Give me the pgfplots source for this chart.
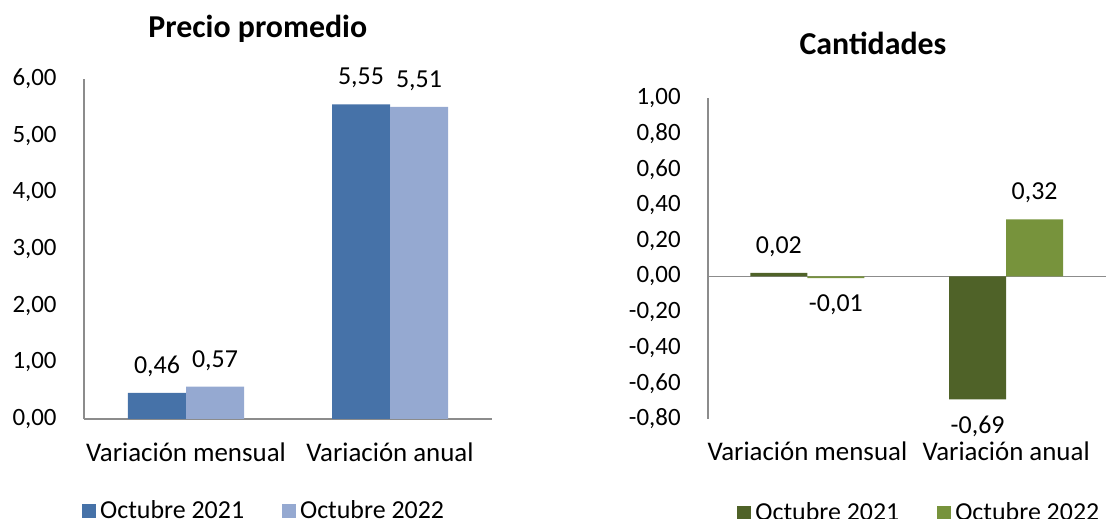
\documentclass[border=0pt]{standalone}
\usepackage{fontspec}
\setmainfont{Carlito}
\usepackage{pgfplots}
\pgfplotsset{compat=1.18}

\definecolor{azulosc}{HTML}{4672A8}
\definecolor{azulcla}{HTML}{95A9D1}
\definecolor{verdeosc}{HTML}{4F6228}
\definecolor{verdecla}{HTML}{77933C}
\definecolor{eje}{HTML}{8C8C8C}

\pgfplotsset{
  panel/.style={
    scale only axis,
    enlargelimits=false,
    xmin=-0.5, xmax=1.5,
    xtick={0,1},
    xticklabels={Variación mensual, Variación anual},
    major tick length=0pt,
    ybar=0pt,
    /pgf/number format/.cd, use comma, fixed, fixed zerofill, precision=2, assume math mode=true,
    /pgfplots/.cd,
    yticklabel style={font=\fontsize{12.5}{14}\selectfont, anchor=east, inner sep=0pt, xshift=-13.5bp},
    xticklabel style={font=\fontsize{13.5}{15}\selectfont, anchor=base, inner sep=0pt, yshift=-21bp},
    axis line style={eje, line width=0.8pt},
    nodes near coords,
    every node near coord/.append style={font=\fontsize{13}{15}\selectfont, inner sep=8pt, text=black},
    every axis title shift=0pt,
    title style={font=\bfseries\fontsize{16}{18}\selectfont, anchor=base},
    legend columns=2,
    legend style={draw=none, fill=none, font=\fontsize{13}{15}\selectfont, anchor=west,
      /tikz/every even column/.append style={column sep=17bp}},
    legend image code/.code={\fill[##1] (0bp,-3.5bp) rectangle (7bp,3.5bp);},
  },
}

\begin{document}
\begin{tikzpicture}
\path[use as bounding box] (0,0) rectangle (556bp,259.5bp);

% Precio promedio
\begin{axis}[panel,
  at={(42bp,50bp)}, anchor=south west,
  width=204bp, height=170bp,
  ymin=0, ymax=6, ytick={0,1,2,3,4,5,6},
  axis x line*=bottom, axis y line*=left,
  bar width=29bp,
  title={Precio promedio},
  title style={at={(0.426,1.1235)}},
  legend style={at={(-0.02,-0.27)}},
]
\addplot[fill=azulosc, draw=none] coordinates {(0,0.46) (1,5.55)};
\addlegendentry{Octubre 2021}
\addplot[fill=azulcla, draw=none] coordinates {(0,0.57) (1,5.51)};
\addlegendentry{Octubre 2022}
\end{axis}

% Cantidades
\begin{axis}[panel,
  at={(354bp,50bp)}, anchor=south west,
  width=198.75bp, height=160.5bp,
  ymin=-0.8, ymax=1,
  ytick={-0.8,-0.6,-0.4,-0.2,0,0.2,0.4,0.6,0.8,1},
  axis x line*=bottom, axis y line*=left,
  x axis line style={draw=none},
  extra y ticks={0},
  extra y tick labels={},
  extra y tick style={grid=major, major grid style={eje, line width=0.8pt}},
  bar width=28.5bp,
  title={Cantidades},
  title style={at={(0.415,1.134)}},
  legend style={at={(0.058,-0.293)}},
]
\addplot[fill=verdeosc, draw=none] coordinates {(0,0.02) (1,-0.69)};
\addlegendentry{Octubre 2021}
\addplot[fill=verdecla, draw=none] coordinates {(0,-0.01) (1,0.32)};
\addlegendentry{Octubre 2022}
\end{axis}
\end{tikzpicture}
\end{document}
